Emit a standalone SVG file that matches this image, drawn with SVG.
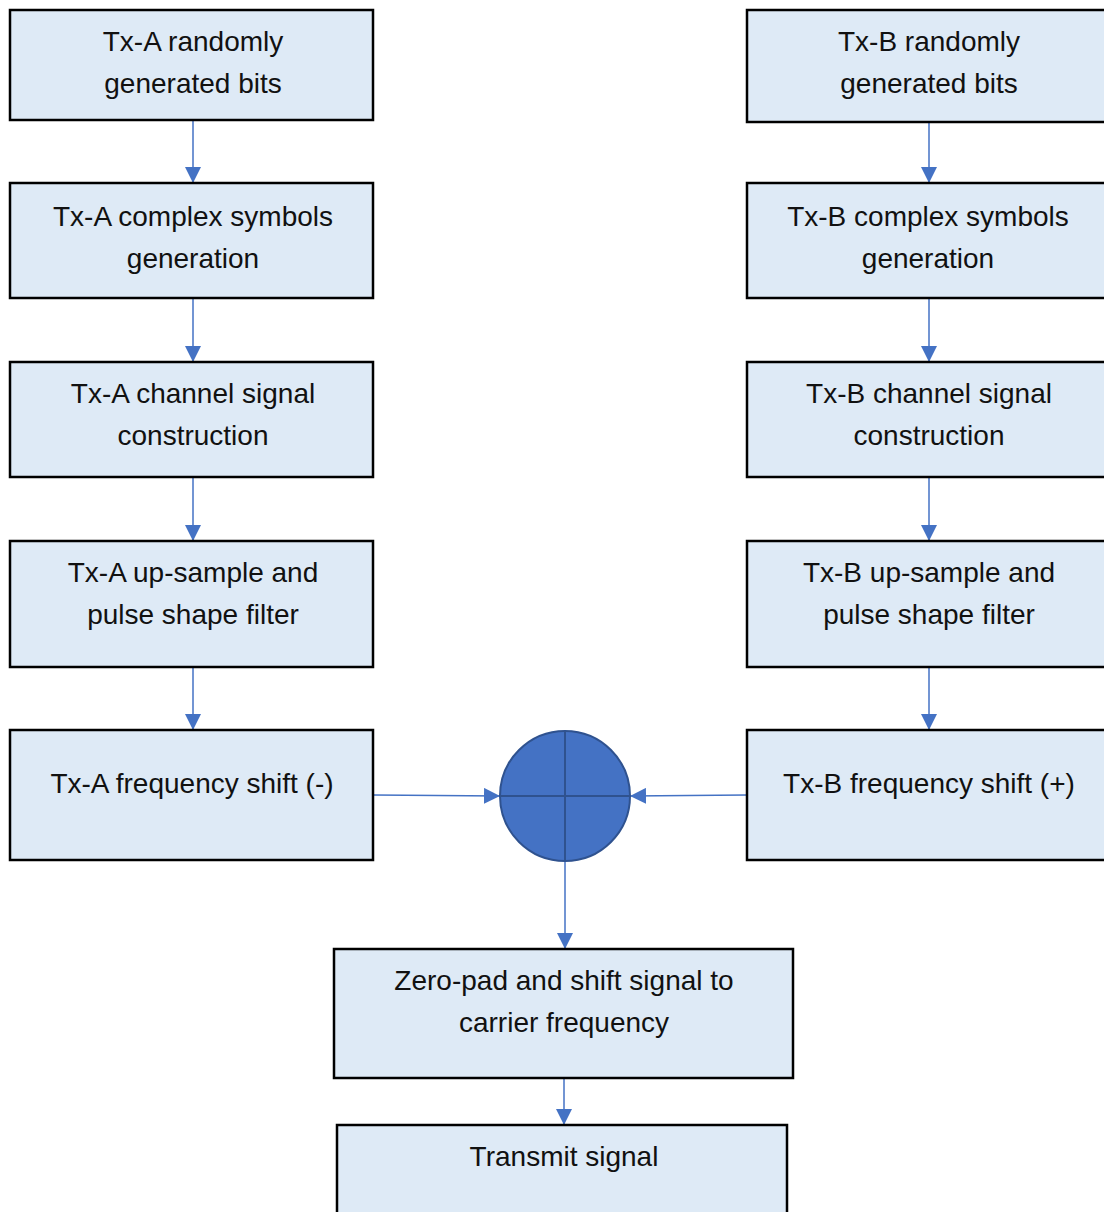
<svg xmlns="http://www.w3.org/2000/svg" width="1104" height="1212" viewBox="0 0 1104 1212">
<defs>
<style>
.box{fill:#DEEAF6;stroke:#000;stroke-width:2.5}
.t{font-family:"Liberation Sans",Arial,sans-serif;font-size:28px;fill:#111;text-anchor:middle}
.c{stroke:#4472C4;stroke-width:1.5;fill:none;marker-end:url(#ah)}
</style>
<marker id="ah" viewBox="0 0 10 10" refX="10" refY="5" markerWidth="16" markerHeight="16" markerUnits="userSpaceOnUse" orient="auto">
<path d="M0,0 L10,5 L0,10 Z" fill="#4472C4"/>
</marker>
</defs>
<g id="connectors">
<line class="c" x1="193" y1="121" x2="193" y2="183"/>
<line class="c" x1="193" y1="299" x2="193" y2="362"/>
<line class="c" x1="193" y1="478" x2="193" y2="541"/>
<line class="c" x1="193" y1="668" x2="193" y2="730"/>
<line class="c" x1="929" y1="123" x2="929" y2="183"/>
<line class="c" x1="929" y1="299" x2="929" y2="362"/>
<line class="c" x1="929" y1="478" x2="929" y2="541"/>
<line class="c" x1="929" y1="668" x2="929" y2="730"/>
<line class="c" x1="374" y1="795" x2="500" y2="796"/>
<line class="c" x1="747" y1="795" x2="630" y2="796"/>
<line class="c" x1="565" y1="861" x2="565" y2="949"/>
<line class="c" x1="564" y1="1079" x2="564" y2="1125"/>
</g>
<g id="a1"><rect class="box" x="10" y="10" width="363" height="110"/><text class="t" x="193" y="51">Tx-A randomly</text><text class="t" x="193" y="93">generated bits</text></g>
<g id="a2"><rect class="box" x="10" y="183" width="363" height="115"/><text class="t" x="193" y="226">Tx-A complex symbols</text><text class="t" x="193" y="268">generation</text></g>
<g id="a3"><rect class="box" x="10" y="362" width="363" height="115"/><text class="t" x="193" y="403">Tx-A channel signal</text><text class="t" x="193" y="445">construction</text></g>
<g id="a4"><rect class="box" x="10" y="541" width="363" height="126"/><text class="t" x="193" y="582">Tx-A up-sample and</text><text class="t" x="193" y="624">pulse shape filter</text></g>
<g id="a5"><rect class="box" x="10" y="730" width="363" height="130"/><text class="t" x="192" y="793">Tx-A frequency shift (-)</text></g>
<g id="b1"><rect class="box" x="747" y="10" width="370" height="112"/><text class="t" x="929" y="51">Tx-B randomly</text><text class="t" x="929" y="93">generated bits</text></g>
<g id="b2"><rect class="box" x="747" y="183" width="370" height="115"/><text class="t" x="928" y="226">Tx-B complex symbols</text><text class="t" x="928" y="268">generation</text></g>
<g id="b3"><rect class="box" x="747" y="362" width="370" height="115"/><text class="t" x="929" y="403">Tx-B channel signal</text><text class="t" x="929" y="445">construction</text></g>
<g id="b4"><rect class="box" x="747" y="541" width="370" height="126"/><text class="t" x="929" y="582">Tx-B up-sample and</text><text class="t" x="929" y="624">pulse shape filter</text></g>
<g id="b5"><rect class="box" x="747" y="730" width="370" height="130"/><text class="t" x="929" y="793">Tx-B frequency shift (+)</text></g>
<g id="sum">
<circle cx="565" cy="796" r="65" fill="#4472C4" stroke="#2F528F" stroke-width="2"/>
<line x1="565" y1="731" x2="565" y2="861" stroke="#2F528F" stroke-width="2"/>
<line x1="500" y1="796" x2="630" y2="796" stroke="#2F528F" stroke-width="2"/>
</g>
<g id="zp"><rect class="box" x="334" y="949" width="459" height="129"/><text class="t" x="564" y="990">Zero-pad and shift signal to</text><text class="t" x="564" y="1032">carrier frequency</text></g>
<g id="tx"><rect class="box" x="337" y="1125" width="450" height="100"/><text class="t" x="564" y="1166">Transmit signal</text></g>
</svg>
